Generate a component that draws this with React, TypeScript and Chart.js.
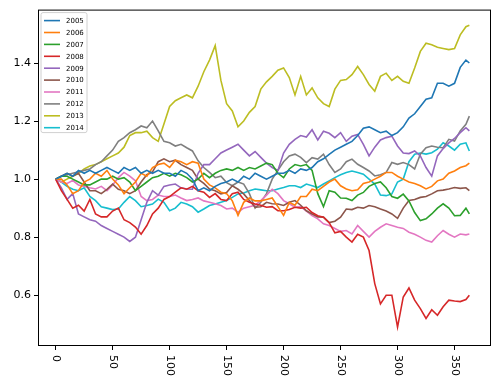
import { useEffect, useRef } from 'react';
import { Chart, registerables } from 'chart.js';

Chart.register(...registerables);

const days = [
  0, 5, 10, 15, 20, 25, 30, 35, 40, 45,
  50, 55, 60, 65, 70, 75, 80, 85, 90, 95,
  100, 105, 110, 115, 120, 125, 130, 135, 140, 145,
  150, 155, 160, 165, 170, 175, 180, 185, 190, 195,
  200, 205, 210, 215, 220, 225, 230, 235, 240, 245,
  250, 255, 260, 265, 270, 275, 280, 285, 290, 295,
  300, 305, 310, 315, 320, 325, 330, 335, 340, 345,
  350, 355, 360, 363,
];

const s2005 = [
  1.00, 1.01, 1.02, 1.01, 1.03, 1.02, 1.03, 1.02, 1.03, 1.04,
  1.03, 1.02, 1.04, 1.03, 1.04, 1.02, 1.03, 1.02, 1.03, 1.02,
  1.02, 1.01, 1.03, 1.02, 1.00, 0.96, 0.97, 0.96, 0.975, 0.985,
  0.99, 1.00, 0.99, 1.01, 1.00, 1.02, 1.01, 1.00, 1.01, 1.02,
  1.02, 1.03, 1.02, 1.035, 1.03, 1.04, 1.06, 1.07, 1.085, 1.10,
  1.11, 1.12, 1.13, 1.15, 1.175, 1.18, 1.17, 1.16, 1.165, 1.15,
  1.16, 1.18, 1.21, 1.225, 1.25, 1.275, 1.28, 1.33, 1.33, 1.32,
  1.33, 1.385, 1.41, 1.40,
];
const s2006 = [
  1.00, 1.00, 0.98, 0.95, 0.96, 0.99, 1.00, 1.02, 1.01, 1.03,
  1.00, 0.98, 0.95, 0.97, 0.99, 1.02, 1.01, 1.04, 1.05, 1.055,
  1.04, 1.065, 1.06, 1.05, 1.06, 1.055, 1.00, 0.98, 0.97, 0.955,
  0.95, 0.925, 0.875, 0.92, 0.935, 0.925, 0.925, 0.93, 0.935, 0.905,
  0.875, 0.92, 0.91, 0.94, 0.94, 0.965, 0.96, 0.975, 0.99, 1.00,
  0.977, 0.966, 0.96, 0.963, 0.985, 0.99, 1.00, 1.01, 1.023, 1.023,
  1.01, 1.00, 0.99, 0.985, 0.977, 0.966, 0.975, 0.994, 1.00, 1.02,
  1.028, 1.04, 1.046, 1.055,
];
const s2007 = [
  1.00, 1.01, 1.01, 1.00, 0.99, 0.98, 0.98, 0.99, 1.00, 1.00,
  1.01, 1.00, 1.005, 0.99, 0.96, 0.975, 0.99, 1.005, 1.01, 1.02,
  1.01, 1.02, 1.015, 1.005, 0.99, 1.00, 1.02, 1.005, 1.02, 1.03,
  1.035, 1.03, 1.04, 1.03, 1.04, 1.035, 1.045, 1.055, 1.05, 1.02,
  1.005, 1.035, 1.05, 1.045, 1.05, 1.03, 0.95, 0.905, 0.96, 0.955,
  0.935, 0.934, 0.926, 0.945, 0.954, 0.975, 0.985, 0.99, 0.97, 0.94,
  0.934, 0.948, 0.925, 0.885, 0.857, 0.863, 0.88, 0.90, 0.915, 0.90,
  0.874, 0.875, 0.90, 0.88,
];
const s2008 = [
  1.00, 0.96, 0.93, 0.90, 0.91, 0.89, 0.93, 0.88, 0.87, 0.87,
  0.89, 0.90, 0.86, 0.85, 0.835, 0.81, 0.84, 0.88, 0.90, 0.93,
  0.94, 0.955, 0.97, 0.965, 0.975, 0.96, 0.955, 0.937, 0.95, 0.93,
  0.926, 0.95, 0.955, 0.93, 0.92, 0.914, 0.91, 0.903, 0.905, 0.891,
  0.891, 0.895, 0.903, 0.90, 0.903, 0.885, 0.874, 0.869, 0.85, 0.815,
  0.82, 0.80, 0.783, 0.81, 0.80, 0.754, 0.64, 0.57, 0.60, 0.60,
  0.49, 0.594, 0.625, 0.583, 0.554, 0.52, 0.55, 0.531, 0.56, 0.583,
  0.58, 0.578, 0.585, 0.60,
];
const s2009 = [
  1.00, 0.97, 0.93, 0.95, 0.88, 0.87, 0.86, 0.855, 0.84, 0.83,
  0.82, 0.81, 0.80, 0.785, 0.80, 0.86, 0.92, 0.96, 0.945, 0.975,
  0.98, 0.983, 0.97, 0.966, 0.965, 1.02, 1.05, 1.05, 1.07, 1.09,
  1.10, 1.11, 1.12, 1.10, 1.08, 1.095, 1.075, 1.055, 1.04, 1.03,
  1.09, 1.12, 1.137, 1.15, 1.145, 1.17, 1.135, 1.165, 1.158, 1.143,
  1.16, 1.13, 1.148, 1.154, 1.12, 1.08, 1.11, 1.135, 1.143, 1.148,
  1.114, 1.09, 1.088, 1.097, 1.08, 1.04, 1.01, 1.08, 1.105, 1.125,
  1.14, 1.16, 1.177, 1.166,
];
const s2010 = [
  1.00, 1.01, 1.02, 1.01, 1.02, 0.99, 0.96, 0.96, 0.95, 0.965,
  0.983, 0.965, 0.96, 0.95, 0.96, 0.99, 1.015, 1.025, 1.06, 1.07,
  1.06, 1.065, 1.05, 1.04, 1.03, 1.00, 0.985, 0.966, 0.96, 0.949,
  0.954, 0.977, 0.965, 0.949, 0.926, 0.903, 0.905, 0.92, 0.915, 0.914,
  0.909, 0.92, 0.926, 0.91, 0.891, 0.88, 0.87, 0.869, 0.85, 0.855,
  0.869, 0.897, 0.895, 0.903, 0.90, 0.909, 0.905, 0.897, 0.89, 0.88,
  0.865, 0.90, 0.926, 0.93, 0.937, 0.94, 0.949, 0.96, 0.962, 0.966,
  0.971, 0.968, 0.97, 0.96,
];
const s2011 = [
  1.00, 0.99, 0.985, 0.995, 0.98, 0.975, 0.97, 0.966, 0.975, 0.96,
  0.98, 1.005, 1.023, 1.01, 0.994, 0.94, 0.926, 0.93, 0.945, 0.94,
  0.94, 0.945, 0.935, 0.926, 0.93, 0.935, 0.925, 0.92, 0.915, 0.909,
  0.897, 0.90, 0.886, 0.90, 0.905, 0.91, 0.926, 0.945, 0.965, 0.95,
  0.926, 0.915, 0.903, 0.905, 0.89, 0.874, 0.863, 0.846, 0.84, 0.83,
  0.82, 0.823, 0.811, 0.84, 0.82, 0.80, 0.82, 0.834, 0.846, 0.84,
  0.834, 0.83, 0.817, 0.81, 0.80, 0.789, 0.783, 0.805, 0.823, 0.81,
  0.80, 0.811, 0.808, 0.811,
];
const s2012 = [
  1.00, 1.01, 1.015, 1.02, 1.025, 1.03, 1.035, 1.05, 1.06, 1.08,
  1.10, 1.13, 1.143, 1.16, 1.17, 1.183, 1.177, 1.20, 1.166, 1.13,
  1.125, 1.114, 1.12, 1.108, 1.097, 1.063, 1.04, 1.023, 1.005, 1.01,
  0.988, 0.977, 0.99, 0.983, 0.95, 0.90, 0.92, 0.95, 1.00, 1.03,
  1.06, 1.08, 1.086, 1.075, 1.057, 1.074, 1.069, 1.086, 1.05, 1.023,
  1.035, 1.06, 1.069, 1.051, 1.04, 1.028, 1.011, 1.015, 1.023, 1.057,
  1.051, 1.057, 1.05, 1.035, 1.086, 1.108, 1.114, 1.11, 1.108, 1.137,
  1.131, 1.166, 1.189, 1.217,
];
const s2013 = [
  1.00, 0.99, 1.00, 1.01, 1.02, 1.035, 1.045, 1.05, 1.06, 1.07,
  1.08, 1.09, 1.11, 1.15, 1.16, 1.16, 1.165, 1.143, 1.13, 1.19,
  1.25, 1.27, 1.28, 1.29, 1.28, 1.32, 1.37, 1.41, 1.46, 1.34,
  1.26, 1.235, 1.18, 1.20, 1.23, 1.25, 1.31, 1.335, 1.354, 1.375,
  1.383, 1.35, 1.29, 1.354, 1.29, 1.314, 1.28, 1.26, 1.25, 1.31,
  1.34, 1.343, 1.36, 1.388, 1.36, 1.326, 1.303, 1.354, 1.365, 1.34,
  1.354, 1.337, 1.33, 1.383, 1.44, 1.468, 1.463, 1.454, 1.45, 1.446,
  1.45, 1.497, 1.525, 1.53,
];
const s2014 = [
  1.00, 0.99, 0.975, 0.965, 0.96, 0.97, 0.94, 0.926, 0.905, 0.90,
  0.895, 0.897, 0.92, 0.94, 0.926, 0.905, 0.909, 0.914, 0.931, 0.92,
  0.891, 0.90, 0.92, 0.914, 0.905, 0.886, 0.897, 0.909, 0.914, 0.92,
  0.926, 0.937, 0.949, 0.952, 0.96, 0.966, 0.963, 0.96, 0.96, 0.966,
  0.971, 0.977, 0.977, 0.971, 0.983, 0.977, 0.971, 0.983, 0.994, 1.005,
  1.015, 1.023, 1.028, 1.023, 1.017, 1.00, 0.983, 0.945, 0.943, 0.949,
  0.99, 1.00, 1.06, 1.086, 1.09, 1.086, 1.091, 1.103, 1.125, 1.114,
  1.10, 1.12, 1.125, 1.097,
];

const seriesLabels = ['2005', '2006', '2007', '2008', '2009', '2010', '2011', '2012', '2013', '2014'];
const seriesValues = [s2005, s2006, s2007, s2008, s2009, s2010, s2011, s2012, s2013, s2014];
const seriesColors = [
  '#1f77b4', '#ff7f0e', '#2ca02c', '#d62728', '#9467bd',
  '#8c564b', '#e377c2', '#7f7f7f', '#bcbd22', '#17becf',
];
const xTicks = [0, 50, 100, 150, 200, 250, 300, 350];
const yTicks = [0.6, 0.8, 1.0, 1.2, 1.4];

const FONT = '"DejaVu Sans", sans-serif';

const mplPlugin = {
  id: 'mplDecor',
  afterDraw(chart: any) {
    const { ctx, chartArea: a } = chart;
    ctx.save();
    // frame
    ctx.strokeStyle = '#000';
    ctx.lineWidth = 1;
    ctx.strokeRect(a.left + 0.5, a.top + 0.5, a.right - a.left - 1, a.bottom - a.top - 1);
    // rotated x tick labels
    const xs = chart.scales.x;
    ctx.fillStyle = '#000';
    ctx.font = `11px ${FONT}`;
    ctx.textAlign = 'left';
    ctx.textBaseline = 'middle';
    xs.ticks.forEach((t: any) => {
      const px = xs.getPixelForValue(t.value);
      ctx.save();
      ctx.translate(px, a.bottom + 9);
      ctx.rotate(Math.PI / 2);
      ctx.fillText(String(t.value), 0, 0);
      ctx.restore();
    });
    // legend
    const lx = a.left + 3;
    const ly = a.top + 3;
    const lw = 46;
    const lh = 120;
    ctx.beginPath();
    const r = 2;
    ctx.moveTo(lx + r, ly);
    ctx.lineTo(lx + lw - r, ly);
    ctx.quadraticCurveTo(lx + lw, ly, lx + lw, ly + r);
    ctx.lineTo(lx + lw, ly + lh - r);
    ctx.quadraticCurveTo(lx + lw, ly + lh, lx + lw - r, ly + lh);
    ctx.lineTo(lx + r, ly + lh);
    ctx.quadraticCurveTo(lx, ly + lh, lx, ly + lh - r);
    ctx.lineTo(lx, ly + r);
    ctx.quadraticCurveTo(lx, ly, lx + r, ly);
    ctx.closePath();
    ctx.fillStyle = 'rgba(255,255,255,0.8)';
    ctx.fill();
    ctx.strokeStyle = '#d0d0d0';
    ctx.lineWidth = 1;
    ctx.stroke();
    ctx.font = `7px ${FONT}`;
    ctx.textBaseline = 'middle';
    chart.data.datasets.forEach((ds: any, i: number) => {
      const yy = ly + 8 + i * 11.9;
      ctx.strokeStyle = ds.borderColor;
      ctx.lineWidth = 1.6;
      ctx.beginPath();
      ctx.moveTo(lx + 3, yy);
      ctx.lineTo(lx + 19, yy);
      ctx.stroke();
      ctx.fillStyle = '#000';
      ctx.fillText(ds.label, lx + 25, yy + 0.5);
    });
    ctx.restore();
  },
};

export default function App() {
  const canvasRef = useRef<HTMLCanvasElement | null>(null);

  useEffect(() => {
    document.body.style.margin = '0';
    const canvas = canvasRef.current;
    if (!canvas) return;
    const chart = new Chart(canvas, {
      type: 'line',
      data: {
        datasets: seriesLabels.map((label, i) => ({
          label,
          data: days.map((d, j) => ({ x: d, y: seriesValues[i][j] })),
          borderColor: seriesColors[i],
          backgroundColor: seriesColors[i],
          borderWidth: 1.6,
          pointRadius: 0,
          tension: 0,
          fill: false,
        })),
      },
      options: {
        responsive: false,
        animation: false,
        devicePixelRatio: 1,
        layout: { padding: { top: 8, right: 9, bottom: 0, left: 0 } },
        plugins: {
          legend: { display: false },
          tooltip: { enabled: false },
        },
        scales: {
          x: {
            type: 'linear',
            min: -15.5,
            max: 382,
            afterBuildTicks: (s: any) => {
              s.ticks = xTicks.map((v) => ({ value: v }));
            },
            afterFit: (s: any) => {
              s.height = 42;
            },
            grid: {
              display: true,
              drawOnChartArea: false,
              drawTicks: true,
              tickLength: 4,
              color: '#000',
              lineWidth: 1,
            },
            border: { display: false },
            ticks: { display: false },
          },
          y: {
            type: 'linear',
            min: 0.425,
            max: 1.584,
            afterBuildTicks: (s: any) => {
              s.ticks = yTicks.map((v) => ({ value: v }));
            },
            afterFit: (s: any) => {
              s.width = 38;
            },
            grid: {
              display: true,
              drawOnChartArea: false,
              drawTicks: true,
              tickLength: 4,
              color: '#000',
              lineWidth: 1,
            },
            border: { display: false },
            ticks: {
              color: '#000',
              padding: 3,
              font: { family: FONT, size: 11 },
              callback: (v: any) => Number(v).toFixed(1),
            },
          },
        },
      },
      plugins: [mplPlugin],
    });
    return () => chart.destroy();
  }, []);

  return (
    <div style={{ width: 500, height: 388 }}>
      <canvas ref={canvasRef} width={500} height={388} />
    </div>
  );
}
